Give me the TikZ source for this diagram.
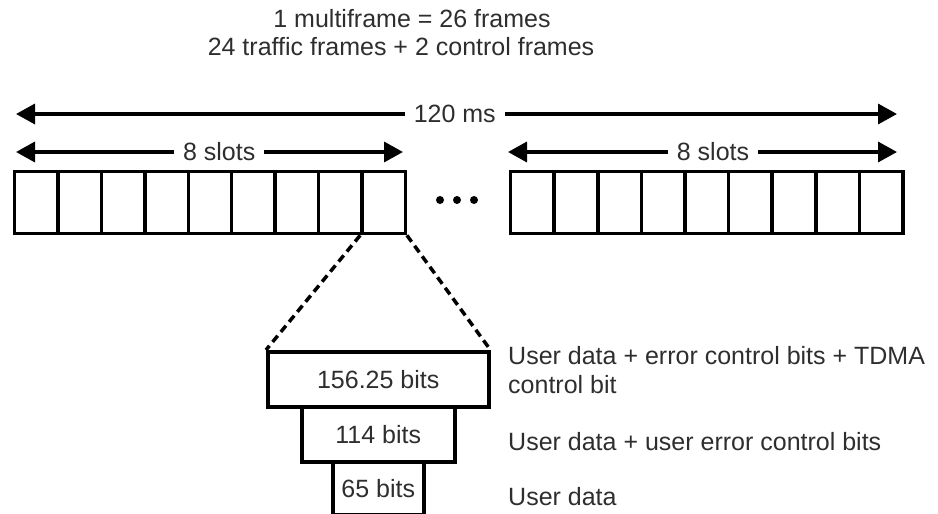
\documentclass[tikz,border=0pt]{standalone}
\usepackage{fontspec}
\setmainfont{Liberation Sans}
\usetikzlibrary{arrows.meta}
\definecolor{ink}{HTML}{2E2E2E}
\tikzset{
  slotbox/.style={draw=black, line width=3.3pt, minimum width=43.4pt, minimum height=62pt, inner sep=0pt, anchor=north west},
  bitbox/.style={draw=black, line width=3.5pt, inner sep=0pt, anchor=north west, text=ink, font=\fontsize{25}{30}\selectfont},
  dimarrow/.style={line width=3.5pt, {Triangle[length=19pt,width=20pt]}-{Triangle[length=19pt,width=20pt]}},
  dimlabel/.style={fill=white, inner xsep=9pt, inner ysep=2pt, text=ink, font=\fontsize{25}{30}\selectfont},
  plain/.style={text=ink, font=\fontsize{25}{30}\selectfont, inner sep=0pt},
  zoomline/.style={line width=3.5pt, dash pattern=on 8pt off 5pt},
}
\begin{document}
\begin{tikzpicture}[x=1pt, y=-1pt]
\useasboundingbox (0,0) rectangle (938,514);

% headings
\node[plain] (t1) at (412,19) {1 multiframe = 26 frames};
\node[plain] (t2) at (401,47) {24 traffic frames + 2 control frames};

% total duration
\coordinate (msL) at (16,114);
\coordinate (msR) at (897,114);
\draw[dimarrow] (msL) -- (msR) node[dimlabel, pos=0.498] (ms) {120 ms};

% first group of slots
\foreach \i in {1,...,9} {
  \node[slotbox] (l\i) at ({13+(\i-1)*43.4},170) {};
}
% last group of slots
\foreach \i in {1,...,9} {
  \node[slotbox] (r\i) at ({509+(\i-1)*43.6},170) {};
}

% slot spans
\coordinate (sLa) at (16,152);
\coordinate (sLb) at (403,152);
\draw[dimarrow] (sLa) -- (sLb) node[dimlabel, pos=0.525] (sl) {8 slots};
\coordinate (sRa) at (508,152);
\coordinate (sRb) at (897,152);
\draw[dimarrow] (sRa) -- (sRb) node[dimlabel, pos=0.527] (sr) {8 slots};

% ellipsis between the groups
\foreach \x/\n in {440/d1,457/d2,474/d3} {
  \fill (\x,200) circle (4pt) coordinate (\n);
}

% slot contents
\node[bitbox, minimum width=221pt, minimum height=55pt] (b1) at (266,350) {156.25 bits};
\node[bitbox, minimum width=153pt, minimum height=55pt] (b2) at (300,405) {114 bits};
\node[bitbox, minimum width=91pt, minimum height=53pt] (b3) at (331,460) {65 bits};

% zoom-in lines
\draw[zoomline] (l9.south west) -- (b1.north west);
\draw[zoomline] (l9.south east) -- (b1.north east);

% descriptions
\node[plain, anchor=west, align=left] (e1) at (508,370) {User data + error control bits + TDMA\\[-1pt]control bit};
\node[plain, anchor=west] (e2) at (508,442) {User data + user error control bits};
\node[plain, anchor=west] (e3) at (508,497) {User data};
\end{tikzpicture}
\end{document}
